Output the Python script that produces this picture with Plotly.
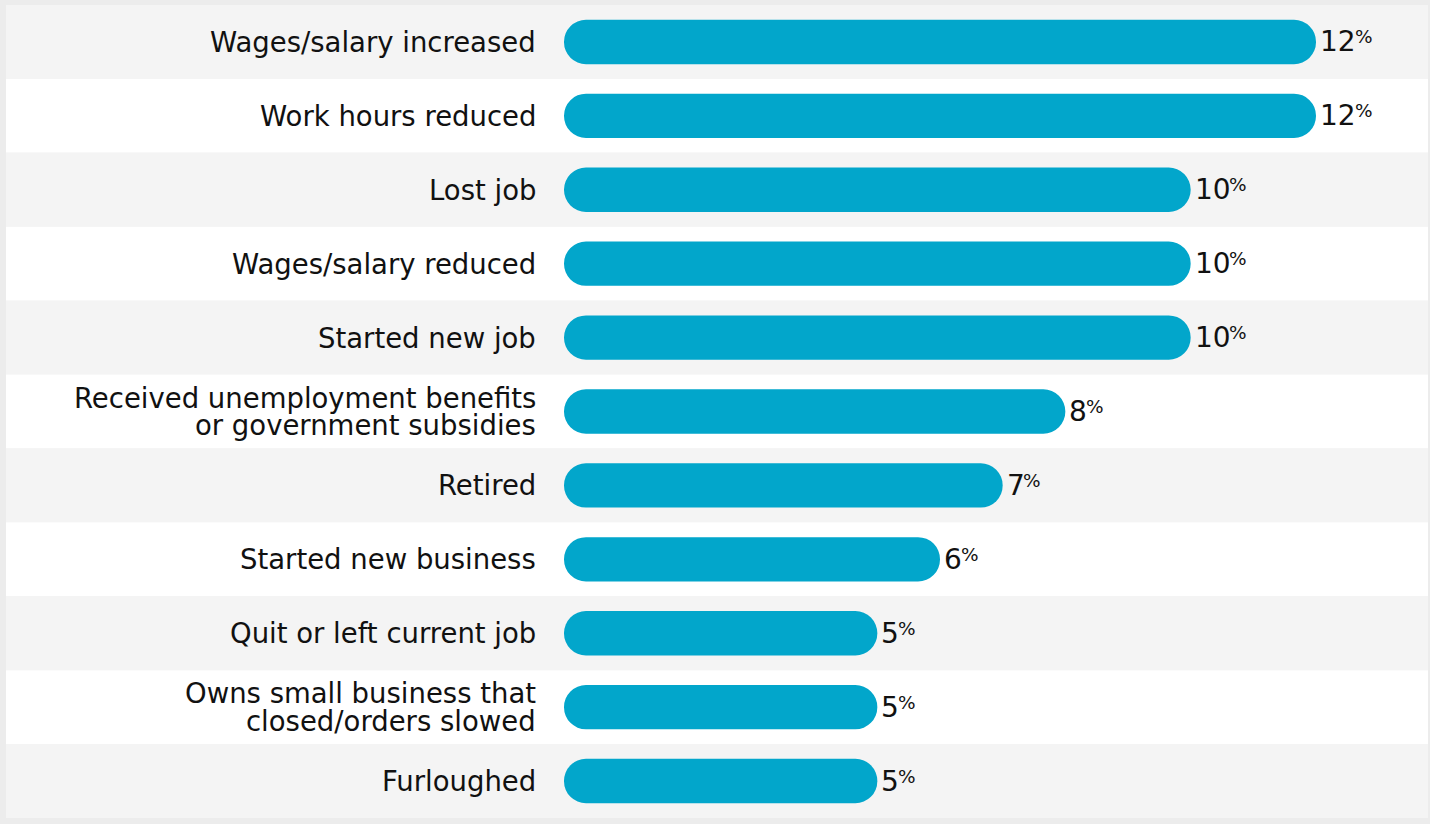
import plotly.graph_objects as go

# Survey categories, top to bottom, and the share of respondents (%)
categories = [
    "Wages/salary increased",
    "Work hours reduced",
    "Lost job",
    "Wages/salary reduced",
    "Started new job",
    "Received unemployment benefits<br>or government subsidies",
    "Retired",
    "Started new business",
    "Quit or left current job",
    "Owns small business that<br>closed/orders slowed",
    "Furloughed",
]
values = [12, 12, 10, 10, 10, 8, 7, 6, 5, 5, 5]
value_labels = [str(v) for v in values]

W, H = 1430, 824
BAR_COLOR = "#02a6cb"
TEXT_COLOR = "#111111"
FONT = "DejaVu Sans"
LABEL_SIZE = 27.5
VALUE_SIZE = 28
PCT_SIZE = 18.5
DIGIT_W = 0.636 * VALUE_SIZE  # DejaVu digits share one advance width
LINE_GAP = 27.5

fig = go.Figure()
# An explicit base makes Plotly round both ends of each bar into a pill
fig.add_trace(go.Bar(
    y=categories, x=values, base=[0] * len(values), orientation="h",
    width=0.6, marker=dict(color=BAR_COLOR, line=dict(width=0)),
    hoverinfo="skip", showlegend=False,
))

# Alternating row bands
shapes = []
for i, _ in enumerate(categories):
    shapes.append(dict(
        type="rect", xref="paper", yref="y", layer="below",
        x0=6 / W, x1=1428 / W, y0=i - 0.5, y1=i + 0.5,
        fillcolor="#f4f4f4" if i % 2 == 0 else "#ffffff",
        line=dict(width=0),
    ))

annotations = []
# Right-aligned category labels, with tight leading on two-line entries
for cat in categories:
    lines = cat.split("<br>")
    n = len(lines)
    for k, line in enumerate(lines):
        annotations.append(dict(
            x=0, y=cat, xref="x", yref="y", text=line, showarrow=False,
            xanchor="right", yanchor="middle", xshift=-26,
            yshift=((n - 1) / 2 - k) * LINE_GAP,
            font=dict(family=FONT, size=LABEL_SIZE, color=TEXT_COLOR),
        ))

# Value labels at the bar ends, with a small top-aligned percent sign
for cat, v, lab in zip(categories, values, value_labels):
    annotations.append(dict(
        x=v, y=cat, xref="x", yref="y", text=lab, showarrow=False,
        xanchor="left", yanchor="middle", xshift=2,
        font=dict(family=FONT, size=VALUE_SIZE, color=TEXT_COLOR),
    ))
    annotations.append(dict(
        x=v, y=cat, xref="x", yref="y", text="%", showarrow=False,
        xanchor="left", yanchor="middle",
        xshift=1 + len(lab) * DIGIT_W, yshift=5,
        font=dict(family=FONT, size=PCT_SIZE, color=TEXT_COLOR),
    ))

px_per_unit = 752 / 12
x0_px = 564
fig.update_layout(
    width=W, height=H,
    margin=dict(l=0, r=0, t=5, b=6),
    paper_bgcolor="#ececec", plot_bgcolor="rgba(0,0,0,0)",
    barmode="overlay", barcornerradius="50%",
    xaxis=dict(domain=[x0_px / W, 1], range=[0, (W - x0_px) / px_per_unit],
               visible=False, fixedrange=True),
    yaxis=dict(categoryorder="array", categoryarray=categories,
               range=[len(categories) - 0.5, -0.5], showticklabels=False,
               showgrid=False, zeroline=False, fixedrange=True),
    shapes=shapes, annotations=annotations,
    font=dict(family=FONT, color=TEXT_COLOR),
)

fig.write_html("out.html")
